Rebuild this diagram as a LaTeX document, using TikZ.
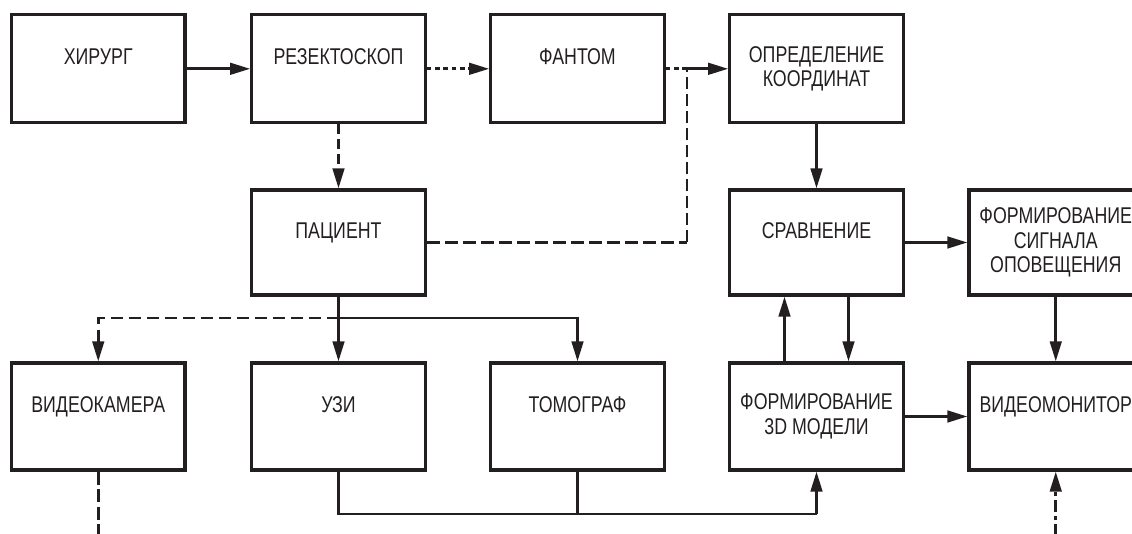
\documentclass[tikz,border=0pt]{standalone}
\usepackage{fontspec}
\setmainfont{Liberation Sans}[FakeStretch=0.78]
\usetikzlibrary{arrows.meta}
\definecolor{ink}{HTML}{231F20}
\begin{document}
\begin{tikzpicture}[x=1pt,y=-1pt,
  box/.style={draw=ink,line width=3.1pt,minimum width=173.5pt,inner sep=0pt,
    font=\fontsize{22.8}{24.5}\selectfont,text=ink,align=center},
  r1/.style={minimum height=107.7pt},
  r2/.style={minimum height=105pt},
  r3/.style={minimum height=107pt},
  oneline/.style={text height=16pt,text depth=24pt},
  conn/.style={draw=ink,line width=2.8pt},
  arr/.style={conn,-{Triangle[length=20pt,width=11.5pt]}},
  dotline/.style={dash pattern=on 4.5pt off 3.8pt},
  dashA/.style={dash pattern=on 10pt off 5pt},
  dashB/.style={dash pattern=on 13pt off 5pt},
  dashC/.style={dash pattern=on 12pt off 6pt},
  dashD/.style={dash pattern=on 13pt off 4.5pt},
  dashdotE/.style={dash pattern=on 12pt off 4pt on 4pt off 4pt}]
\useasboundingbox (0,0) rectangle (1132,534);
\clip (0,0) rectangle (1132,534);
% row 1
\node[box,r1,oneline] (hir) at (98.25,68.8) {ХИРУРГ};
\node[box,r1,oneline] (rez) at (338.5,68.8) {РЕЗЕКТОСКОП};
\node[box,r1,oneline] (fan) at (577.5,68.8) {ФАНТОМ};
\node[box,r1] (opr) at (816.5,68.8) {ОПРЕДЕЛЕНИЕ\\КООРДИНАТ};
% row 2
\node[box,r2,oneline] (pac) at (338.5,242.5) {ПАЦИЕНТ};
\node[box,r2,oneline] (cmp) at (816.5,242.5) {СРАВНЕНИЕ};
\node[box,r2] (sig) at (1055.75,242.5) {ФОРМИРОВАНИЕ\\СИГНАЛА\\ОПОВЕЩЕНИЯ};
% row 3
\node[box,r3,oneline] (cam) at (98.25,416.5) {ВИДЕОКАМЕРА};
\node[box,r3,oneline] (uzi) at (338.5,416.5) {УЗИ};
\node[box,r3,oneline] (tom) at (577.5,416.5) {ТОМОГРАФ};
\node[box,r3] (mod) at (816.5,416.5) {ФОРМИРОВАНИЕ\\3D МОДЕЛИ};
\node[box,r3,oneline] (mon) at (1055.75,416.5) {ВИДЕОМОНИТОР};
% helper coordinates
\coordinate (jn) at (687,68.8);
\coordinate (pj) at (687,242.5);
\coordinate (br) at (338.5,318);
\coordinate (bl) at (338.5,514);
\coordinate (bt) at (577.5,514);
\coordinate (bm) at (816.5,514);
\coordinate (camend) at (98.25,536);
\coordinate (monend) at (1055.75,536);
% connectors
\draw[arr] (hir) -- (rez);
\draw[arr,dotline] (rez) -- (fan);
\draw[conn,dotline] (fan.east) -- (jn);
\draw[arr] (jn) -- (opr.west);
\draw[arr,dashA] (rez) -- (pac);
\draw[conn,line width=2.4pt,dashB] (pac.east) -- (pj);
\draw[conn,line width=2pt,dash pattern=on 12pt off 5pt] (pj) -- (jn);
\draw[arr] (opr) -- (cmp);
\draw[arr] (cmp) -- (sig);
\draw[arr] (sig) -- (mon);
\draw[arr] (mod) -- (mon);
\draw[arr] ([xshift=-32pt]mod.north) -- ([xshift=-32pt]cmp.south);
\draw[arr] ([xshift=32pt]cmp.south) -- ([xshift=32pt]mod.north);
\draw[arr] (pac) -- (uzi);
\draw[arr,dashC] (br) -| (cam.north);
\draw[arr] (br) -| (tom.north);
\draw[conn] (uzi.south) -- (bl) -- (bm);
\draw[conn] (tom.south) -- (bt);
\draw[arr] (bm) -- (mod.south);
\draw[conn,dashD] (cam.south) -- (camend);
\draw[arr,dashdotE] (monend) -- (mon.south);
\end{tikzpicture}
\end{document}
